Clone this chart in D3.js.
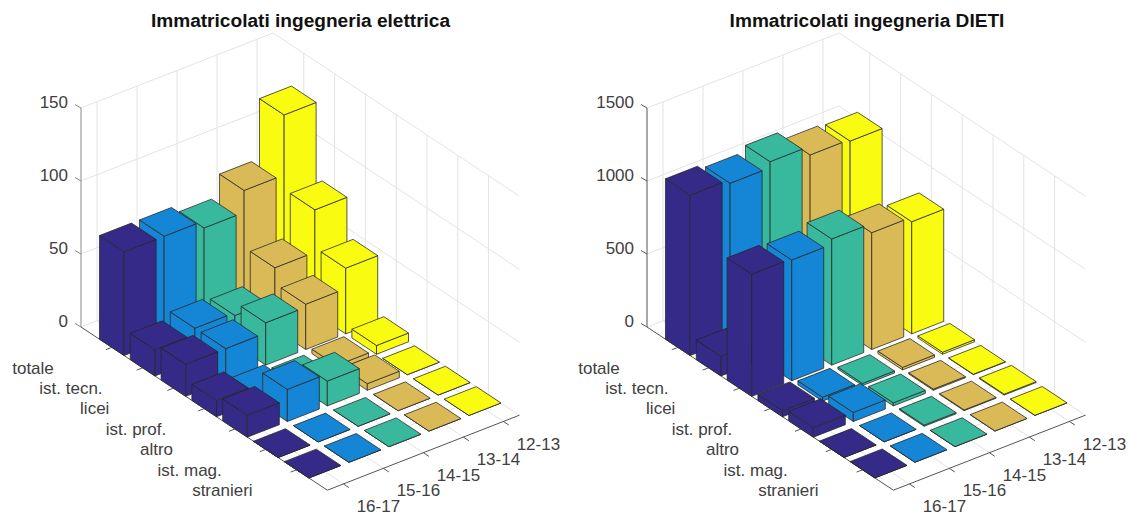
<!DOCTYPE html>
<html>
<head>
<meta charset="utf-8">
<title>Immatricolati</title>
<script src="https://cdn.jsdelivr.net/npm/d3@7"></script>
<style>
  html, body { margin: 0; padding: 0; background: #fff; }
  svg { display: block; }
  text { font-family: "Liberation Sans", Arial, sans-serif; }
</style>
</head>
<body>
<div id="chart"></div>
<script>
const years = ['12-13', '13-14', '14-15', '15-16', '16-17'];
const categories = ['totale', 'ist. tecn.', 'licei', 'ist. prof.', 'altro', 'ist. mag.', 'stranieri'];
const yearColors = ['#f9fb10', '#d9ba56', '#38b99e', '#1585d5', '#352a87'];

// one row per category, one column per year (12-13 ... 16-17)
const elettricaValues = [
    [122, 81, 66, 71, 71],
    [71, 42, 20, 22, 18],
    [45, 31, 29, 22, 22],
    [6, 3, 1, 5, 11],
    [0, 4.5, 17, 22, 15],
    [0, 0, 0, 0, 0],
    [0, 0, 0, 0, 0]
];
const dietiValues = [
    [1041, 1053, 1114, 1073, 1099],
    [120, 130, 140, 150, 134],
    [768, 800, 864, 827, 837],
    [14, 17, 14, 27, 41],
    [3, 8, 21, 62, 65],
    [6, 5, 8, 1, 1],
    [1, 1, 1, 1, 1]
];
const elettricaTicks = [0, 50, 100, 150];
const dietiTicks = [0, 500, 1000, 1500];

// layout: the category labels in the picture do not follow a clean rule
const categoryLabelDx = [-58, -40, -64, -38, -62, -44, -44];

const width = 1129, height = 516;
const svg = d3.select('#chart').append('svg')
    .attr('width', width)
    .attr('height', height);

drawBars3d({
    title: 'Immatricolati ingegneria elettrica',
    titleX: 300.5,
    values: elettricaValues,
    zTicks: elettricaTicks,
    zAxisColor: '#888',
    backX: 273
});
drawBars3d({
    title: 'Immatricolati ingegneria DIETI',
    titleX: 867,
    values: dietiValues,
    zTicks: dietiTicks,
    zAxisColor: '#555',
    backX: 839
});

function drawBars3d(opts) {
    const g = svg.append('g');

    // Fixed axonometric view: each data axis maps to a 0..1 share of its edge.
    const xScale = d3.scaleLinear().domain([0.6, 5.4]).range([0, 1]);
    const yScale = d3.scaleLinear().domain([0, 8]).range([0, 1]);
    const zScale = d3.scaleLinear().domain(d3.extent(opts.zTicks)).range([0, 219]);
    const backY = 252;

    function project(x, y, z) {
        const u = xScale(x), v = yScale(y);
        return [opts.backX - 192 * u + 246.4 * v,
                backY + 75 * u + 163.2 * v - zScale(z)];
    }
    const line = pts => 'M' + pts.map(p => p.join(',')).join('L');
    const poly = pts => line(pts) + 'Z';

    const xTicks = d3.range(1, years.length + 1);
    const yTicks = d3.range(1, categories.length + 1);
    const zMax = zScale.domain()[1];

    // Grid on the two back walls and on the floor.
    const gridSegs = [];
    xTicks.forEach(x => {
        gridSegs.push([project(x, 0, 0), project(x, 0, zMax)]);
        gridSegs.push([project(x, 0, 0), project(x, 8, 0)]);
    });
    yTicks.forEach(y => {
        gridSegs.push([project(0.6, y, 0), project(0.6, y, zMax)]);
        gridSegs.push([project(0.6, y, 0), project(5.4, y, 0)]);
    });
    opts.zTicks.forEach(z => {
        gridSegs.push([project(5.4, 0, z), project(0.6, 0, z)]);
        gridSegs.push([project(0.6, 0, z), project(0.6, 8, z)]);
    });
    g.selectAll('path.grid')
        .data(gridSegs)
        .join('path')
        .attr('class', 'grid')
        .attr('fill', 'none')
        .attr('stroke', '#e3e3e3')
        .attr('stroke-width', 1)
        .attr('d', line);

    // Axis lines and tick marks, drawn before the bars.
    const axisSegs = [
        [project(5.4, 0, 0), project(5.4, 8, 0)],
        [project(5.4, 8, 0), project(0.6, 8, 0)]
    ];
    yTicks.forEach(y => {
        const p = project(5.4, y, 0);
        axisSegs.push([p, [p[0] - 6, p[1] + 2.3]]);
    });
    xTicks.forEach(x => {
        const p = project(x, 8, 0);
        axisSegs.push([p, [p[0] + 5.4, p[1] + 3.6]]);
    });
    g.selectAll('path.axis')
        .data(axisSegs)
        .join('path')
        .attr('class', 'axis')
        .attr('fill', 'none')
        .attr('stroke', '#555')
        .attr('stroke-width', 1)
        .attr('d', line);

    const zAxisSegs = [[project(5.4, 0, 0), project(5.4, 0, zMax)]];
    opts.zTicks.forEach(z => {
        const p = project(5.4, 0, z);
        zAxisSegs.push([p, [p[0] - 6, p[1] - 3.5]]);
    });
    g.selectAll('path.zaxis')
        .data(zAxisSegs)
        .join('path')
        .attr('class', 'zaxis')
        .attr('fill', 'none')
        .attr('stroke', opts.zAxisColor)
        .attr('stroke-width', 1)
        .attr('d', line);

    // Back to front: low category first, then low year index.
    const bars = [];
    categories.forEach((c, i) => {
        years.forEach((yr, j) => {
            bars.push({ x: j + 1, y: i + 1, value: opts.values[i][j], color: yearColors[j] });
        });
    });

    const barG = g.selectAll('g.bar')
        .data(bars)
        .join('g')
        .attr('class', 'bar');

    barG.each(function(d) {
        const x0 = d.x - 0.4, x1 = d.x + 0.4;
        const y0 = d.y - 0.4, y1 = d.y + 0.4;
        const faces = [
            [project(x1, y0, 0), project(x1, y1, 0), project(x1, y1, d.value), project(x1, y0, d.value)],
            [project(x1, y1, 0), project(x0, y1, 0), project(x0, y1, d.value), project(x1, y1, d.value)],
            [project(x0, y0, d.value), project(x1, y0, d.value), project(x1, y1, d.value), project(x0, y1, d.value)]
        ];
        d3.select(this).selectAll('path')
            .data(faces)
            .join('path')
            .attr('d', poly)
            .attr('fill', d.color)
            .attr('stroke', '#262626')
            .attr('stroke-opacity', 0.85)
            .attr('stroke-width', 0.9)
            .attr('stroke-linejoin', 'round');
    });

    // Tick labels.
    const labelStyle = sel => sel
        .style('font-size', '17px')
        .style('fill', '#404040')
        .attr('dy', '0.36em');

    g.selectAll('text.zlabel')
        .data(opts.zTicks)
        .join('text')
        .attr('class', 'zlabel')
        .attr('x', d => project(5.4, 0, d)[0] - 13)
        .attr('y', d => project(5.4, 0, d)[1] - 6)
        .attr('text-anchor', 'end')
        .call(labelStyle)
        .text(d => d);

    g.selectAll('text.ylabel')
        .data(categories)
        .join('text')
        .attr('class', 'ylabel')
        .attr('x', (d, i) => project(5.4, i + 1, 0)[0] + categoryLabelDx[i])
        .attr('y', (d, i) => project(5.4, i + 1, 0)[1] + 20)
        .attr('text-anchor', 'end')
        .call(labelStyle)
        .text(d => d);

    g.selectAll('text.xlabel')
        .data(years)
        .join('text')
        .attr('class', 'xlabel')
        .attr('x', (d, i) => project(i + 1, 8, 0)[0] + 35)
        .attr('y', (d, i) => project(i + 1, 8, 0)[1] + 22)
        .attr('text-anchor', 'middle')
        .call(labelStyle)
        .text(d => d);

    g.append('text')
        .attr('x', opts.titleX)
        .attr('y', 27)
        .attr('text-anchor', 'middle')
        .style('font-size', '19.1px')
        .style('font-weight', '700')
        .style('fill', '#111')
        .text(opts.title);
}
</script>
</body>
</html>
